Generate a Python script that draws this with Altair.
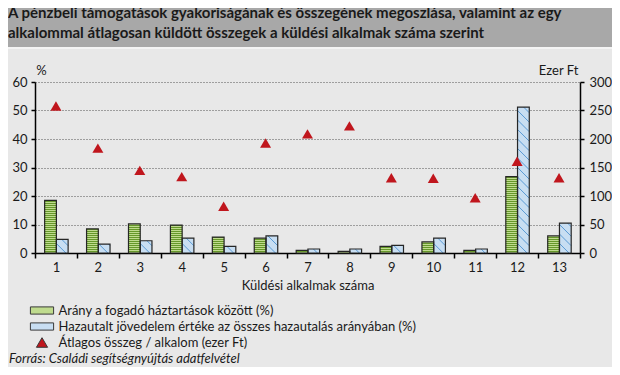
import altair as alt
import numpy as np
import pandas as pd

# ---------------- data ----------------
categories = list(range(1, 14))
arany = [18.5, 8.5, 10.2, 9.8, 5.6, 5.2, 0.9, 0.6, 2.3, 3.9, 0.9, 26.8, 6.0]
hazautalt = [4.8, 3.1, 4.3, 5.2, 2.3, 6.0, 1.4, 1.4, 2.7, 5.2, 1.4, 51.2, 10.5]
atlag = [258, 184, 145, 134, 82, 193, 209, 223, 132, 131, 97, 161, 132]
series_names = [
    "Arány a fogadó háztartások között (%)",
    "Hazautalt jövedelem értéke az összes hazautalás arányában (%)",
    "Átlagos összeg / alkalom (ezer Ft)",
]
title_lines = [
    "A pénzbeli támogatások gyakoriságának és összegének megoszlása, valamint az egy",
    "alkalommal átlagosan küldött összegek a küldési alkalmak száma szerint",
]
x_title = "Küldési alkalmak száma"
left_title = "%"
right_title = "Ezer Ft"
source_text = "Forrás: Családi segítségnyújtás adatfelvétel"
left_ticks = list(range(0, 61, 10))
right_ticks = list(range(0, 301, 50))

# ---------------- style ----------------
W, H = 545, 171
FONT = "Lato"
GREEN_FILL = "#bfdb8e"
GREEN_LINE = "#66982a"
BLUE_FILL = "#c8def2"
BLUE_LINE = "#5b9bd5"
RED = "#c0161d"
EDGE = "#262626"
BAR_W = 0.28
GAP = 0.01
PX_PCT = H / 60.0
PX_CAT = W / 13.0

RECT_PATH = "M-1.45,-0.45H1.45V0.45H-1.45Z"
TRI_PATH = "M0,-0.6L0.7,0.6L-0.7,0.6Z"

# ---------------- derived tables ----------------
bars = pd.DataFrame({
    "cat": categories * 2,
    "series": [series_names[0]] * 13 + [series_names[1]] * 13,
    "value": arany + hazautalt,
})
bars["x0"] = np.where(bars["series"] == series_names[0], bars["cat"] - BAR_W + GAP, bars["cat"] + GAP)
bars["x1"] = bars["x0"] + BAR_W

# horizontal stripes of the green bars
g_rows = []
for k, v in zip(categories, arany):
    j = 1
    while True:
        y = (2 * j - 0.5) / PX_PCT
        if y >= v - 0.1:
            break
        g_rows.append({"xa": k - BAR_W + GAP, "xb": k + GAP, "ys": y})
        j += 1
gstripes = pd.DataFrame(g_rows)

# diagonal stripes of the blue bars
D = (BAR_W * PX_CAT) / PX_PCT  # 45 degree drop in % units
SP = 9.5 / PX_PCT
d_rows = []
for k, v in zip(categories, hazautalt):
    xl = k + GAP
    j = 1
    while j * SP - D < v:
        c = j * SP
        t0 = max(0.0, (c - v) / D)
        t1 = min(1.0, c / D)
        if t1 > t0:
            d_rows.append({
                "xa": xl + BAR_W * t0, "xb": xl + BAR_W * t1,
                "ya": c - D * t0, "yb": c - D * t1,
            })
        j += 1
dstripes = pd.DataFrame(d_rows)

tri = pd.DataFrame({"cat": categories, "series": [series_names[2]] * 13, "atlag": atlag})

# ---------------- scales / axes ----------------
x_scale = alt.Scale(domain=[0.5, 13.5], nice=False, zero=False)
x_axis = alt.Axis(
    values=[0.5 + 0.5 * i for i in range(27)],
    labelExpr="datum.value % 1 === 0 ? format(datum.value, 'd') : ''",
    tickOpacity={"condition": {"test": "datum.value % 1 === 0", "value": 0}, "value": 1},
    labelOverlap=False, labelFlush=False, grid=False,
    tickSize=5, tickColor="black", tickWidth=1.5,
    domainColor="black", domainWidth=1.5,
    labelFont=FONT, labelFontSize=13, labelColor="#1a1a1a", labelPadding=3,
    title=x_title, titleFont=FONT, titleFontSize=13, titleFontWeight="normal",
    titleColor="#1a1a1a", titlePadding=5,
)
y_scale = alt.Scale(domain=[0, 60], nice=False)
y_axis = alt.Axis(
    values=left_ticks, grid=True, gridDash=[1, 2], gridColor="#555555", gridWidth=1,
    tickSize=4, tickColor="black", tickWidth=1.5, domainColor="black", domainWidth=1.5,
    labelFont=FONT, labelFontSize=13, labelColor="#1a1a1a", labelPadding=4,
    title=left_title, titleAngle=0, titleX=6, titleY=-12, titleAlign="center",
    titleBaseline="middle", titleFont=FONT, titleFontSize=13, titleFontWeight="normal",
    titleColor="#1a1a1a",
)
y2_axis = alt.Axis(
    orient="right", values=right_ticks, grid=False,
    tickSize=4, tickColor="black", tickWidth=1.5, domainColor="black", domainWidth=1.5,
    labelFont=FONT, labelFontSize=13, labelColor="#1a1a1a", labelPadding=5,
    title=right_title, titleAngle=0, titleX=-2, titleY=-12, titleAlign="right",
    titleBaseline="middle", titleFont=FONT, titleFontSize=13, titleFontWeight="normal",
    titleColor="#1a1a1a",
)
legend = alt.Legend(
    title=None, orient="none", legendX=-1.5, legendY=220, direction="vertical",
    labelFont=FONT, labelFontSize=13, labelColor="#1a1a1a", symbolSize=256,
    labelOffset=8, rowPadding=0, labelLimit=0,
    symbolStrokeWidth=1, symbolStrokeColor="#3a3a3a",
)
color_scale = alt.Scale(domain=series_names, range=[GREEN_FILL, BLUE_FILL, RED])
shape_scale = alt.Scale(domain=series_names, range=[RECT_PATH, RECT_PATH, TRI_PATH])

# ---------------- layers ----------------
band = alt.Chart(pd.DataFrame({"a": [0]})).mark_rect(color="#a8a8a8").encode(
    x=alt.value(-27), x2=alt.value(W + 32), y=alt.value(-74), y2=alt.value(-35)
)
band_line = alt.Chart(pd.DataFrame({"a": [0]})).mark_rule(color="#f4f4f4", strokeWidth=2).encode(
    x=alt.value(-27), x2=alt.value(W + 32), y=alt.value(-34)
)

bar_fill = alt.Chart(bars).mark_rect(strokeWidth=0).encode(
    x=alt.X("x0:Q", scale=x_scale, axis=x_axis),
    x2="x1:Q",
    y=alt.Y("value:Q", scale=y_scale, axis=y_axis),
    y2=alt.datum(0),
    color=alt.Color("series:N", scale=color_scale, legend=legend),
)
g_layer = alt.Chart(gstripes).mark_rule(color=GREEN_LINE, strokeWidth=1).encode(
    x=alt.X("xa:Q", scale=x_scale, axis=x_axis),
    x2="xb:Q",
    y=alt.Y("ys:Q", scale=y_scale, axis=y_axis),
)
d_layer = alt.Chart(dstripes).mark_rule(color=BLUE_LINE, strokeWidth=1).encode(
    x=alt.X("xa:Q", scale=x_scale, axis=x_axis),
    x2="xb:Q",
    y=alt.Y("ya:Q", scale=y_scale, axis=y_axis),
    y2="yb:Q",
)
bar_edge = alt.Chart(bars).mark_rect(fillOpacity=0, stroke=EDGE, strokeWidth=1.2).encode(
    x=alt.X("x0:Q", scale=x_scale, axis=x_axis),
    x2="x1:Q",
    y=alt.Y("value:Q", scale=y_scale, axis=y_axis),
    y2=alt.datum(0),
)
source = alt.Chart(pd.DataFrame({"a": [0]})).mark_text(
    align="left", baseline="middle", font=FONT, fontSize=13, fontStyle="italic", color="#1a1a1a"
).encode(x=alt.value(-26), y=alt.value(277), text=alt.value(source_text))

left_group = alt.layer(band, band_line, bar_fill, g_layer, d_layer, bar_edge, source)

tri_layer = alt.Chart(tri).mark_point(filled=True, size=247, opacity=1, strokeWidth=0).encode(
    x=alt.X("cat:Q", scale=x_scale, axis=x_axis),
    y=alt.Y("atlag:Q", scale=alt.Scale(domain=[0, 300], nice=False), axis=y2_axis),
    color=alt.Color("series:N", scale=color_scale, legend=legend),
    shape=alt.Shape("series:N", scale=shape_scale, legend=legend),
)

chart = alt.layer(left_group, tri_layer).resolve_scale(y="independent").properties(
    width=W, height=H,
    title=alt.Title(
        text=title_lines, anchor="start", frame="group", dx=-27, offset=-33,
        font=FONT, fontSize=15, fontWeight="bold", color="#1a1a1a", lineHeight=20,
    ),
    background="#e8e8e8",
    padding={"left": 27, "top": 74, "right": 32, "bottom": 114},
    autosize=alt.AutoSizeParams(type="none"),
).configure_view(stroke=None)

chart.save("out.html", embed_options={"renderer": "svg", "actions": False})
